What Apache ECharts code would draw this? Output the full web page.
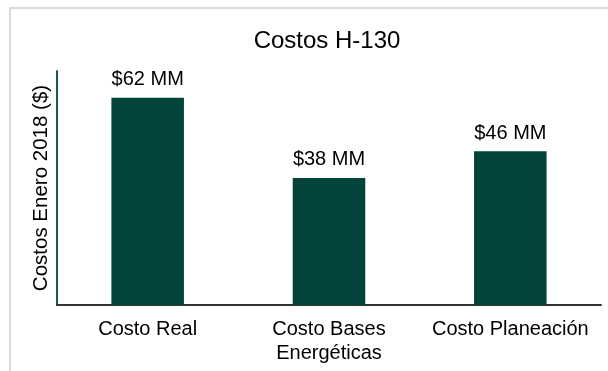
<!DOCTYPE html>
<html>
<head>
<meta charset="utf-8">
<script src="https://cdn.jsdelivr.net/npm/echarts@6/dist/echarts.min.js"></script>
<style>
  html, body { margin: 0; padding: 0; background: #fff; }
  #chart { width: 608px; height: 371px; }
</style>
</head>
<body>
<div id="chart"></div>
<script>
// 数据
const categories = ['Costo Real', 'Costo Bases\nEnergéticas', 'Costo Planeación'];
const values = [62, 38, 46];
const valueLabels = ['$62 MM', '$38 MM', '$46 MM'];

const myChart = echarts.init(document.getElementById('chart'));
const fontFamily = '"Liberation Sans", Arial, sans-serif';

const option = {
  animation: false,
  textStyle: { fontFamily: fontFamily },
  title: {
    text: 'Costos H-130',
    left: 327,
    textAlign: 'center',
    top: 29,
    padding: 0,
    textStyle: { fontSize: 24, fontWeight: 'normal', color: '#000', fontFamily: fontFamily }
  },
  // 外框
  graphic: [{
    type: 'rect',
    shape: { x: 10, y: 8, width: 640, height: 400 },
    style: { fill: 'none', stroke: '#d9d9d9', lineWidth: 2 },
    silent: true
  }],
  grid: { left: 57, right: 7, top: 71, bottom: 66, containLabel: false },
  xAxis: {
    type: 'category',
    data: categories,
    axisLine: { lineStyle: { color: '#333', width: 2 } },
    axisTick: { show: false },
    axisLabel: {
      color: '#000', fontSize: 20, margin: 12, lineHeight: 24,
      fontFamily: fontFamily, interval: 0
    }
  },
  yAxis: {
    type: 'value',
    min: 0,
    max: 70,
    name: 'Costos Enero 2018 ($)',
    nameLocation: 'middle',
    nameGap: 5,
    nameTextStyle: { color: '#000', fontSize: 20.5, fontFamily: fontFamily },
    axisLine: { show: true, lineStyle: { color: '#205c4e', width: 2 } },
    axisTick: { show: false },
    axisLabel: { show: false },
    splitLine: { show: false }
  },
  series: [{
    type: 'bar',
    data: values,
    barWidth: '40%',
    itemStyle: { color: '#02443a' },
    label: {
      show: true,
      position: 'top',
      distance: 8,
      color: '#000',
      fontSize: 20,
      fontFamily: fontFamily,
      formatter: function (p) { return valueLabels[p.dataIndex]; }
    }
  }]
};

option && myChart.setOption(option);
</script>
</body>
</html>
